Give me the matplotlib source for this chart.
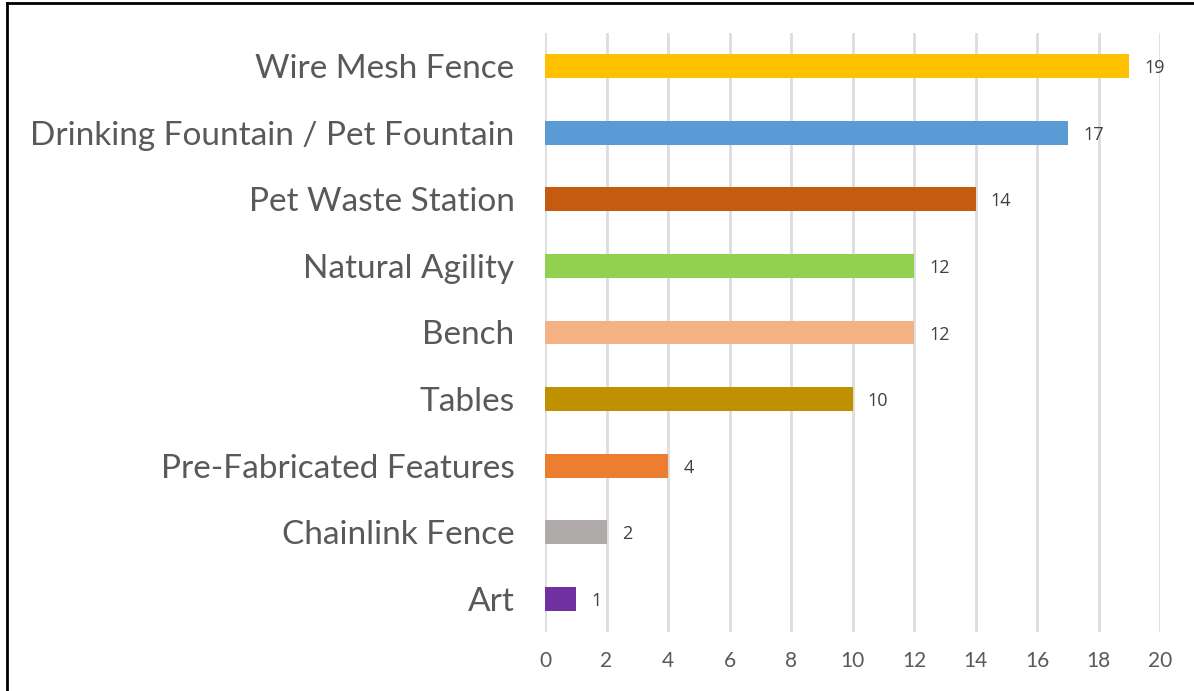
import matplotlib.pyplot as plt

# Dados
categorias = ["Wire Mesh Fence", "Drinking Fountain / Pet Fountain", "Pet Waste Station",
              "Natural Agility", "Bench", "Tables", "Pre-Fabricated Features",
              "Chainlink Fence", "Art"]
valores = [19, 17, 14, 12, 12, 10, 4, 2, 1]
cores = ["#FFC000", "#5B9BD5", "#C55A11", "#92D050", "#F4B183",
         "#BF9000", "#ED7D31", "#AEAAAA", "#7030A0"]
ticks_x = list(range(0, 21, 2))

fig = plt.figure(figsize=(11.94, 6.91), dpi=100)
ax = fig.add_axes([545 / 1194, 1 - 632 / 691, 615 / 1194, 599 / 691])

pos = list(range(len(categorias)))[::-1]
ax.barh(pos, valores, height=0.36, color=cores, zorder=3)

for p, v in zip(pos, valores):
    ax.text(v + 0.5, p, str(v), va="center_baseline", ha="left", fontsize=13,
            color="#404040", family="Open Sans")

ax.set_xlim(0, 20)
ax.set_ylim(-0.5, len(categorias) - 0.5)
ax.set_xticks(ticks_x)
ax.set_xticklabels([str(t) for t in ticks_x], fontsize=15, color="#595959", family="Lato")
ax.set_yticks(pos)
ax.set_yticklabels(categorias, fontsize=24, color="#595959", family="Lato")
ax.tick_params(axis="both", length=0)
ax.tick_params(axis="y", pad=22)
ax.tick_params(axis="x", pad=14)
ax.grid(axis="x", color="#DDDDDD", linewidth=2, zorder=0)
for s in ax.spines.values():
    s.set_visible(False)

# Borda esquerda e superior
fig.add_artist(plt.Line2D([6.5 / 1194, 6.5 / 1194], [0, 1 - 2.5 / 691], color="black", linewidth=2))
fig.add_artist(plt.Line2D([6.5 / 1194, 1], [1 - 2.5 / 691, 1 - 2.5 / 691], color="black", linewidth=2))

fig.savefig("out.png", dpi=100)
